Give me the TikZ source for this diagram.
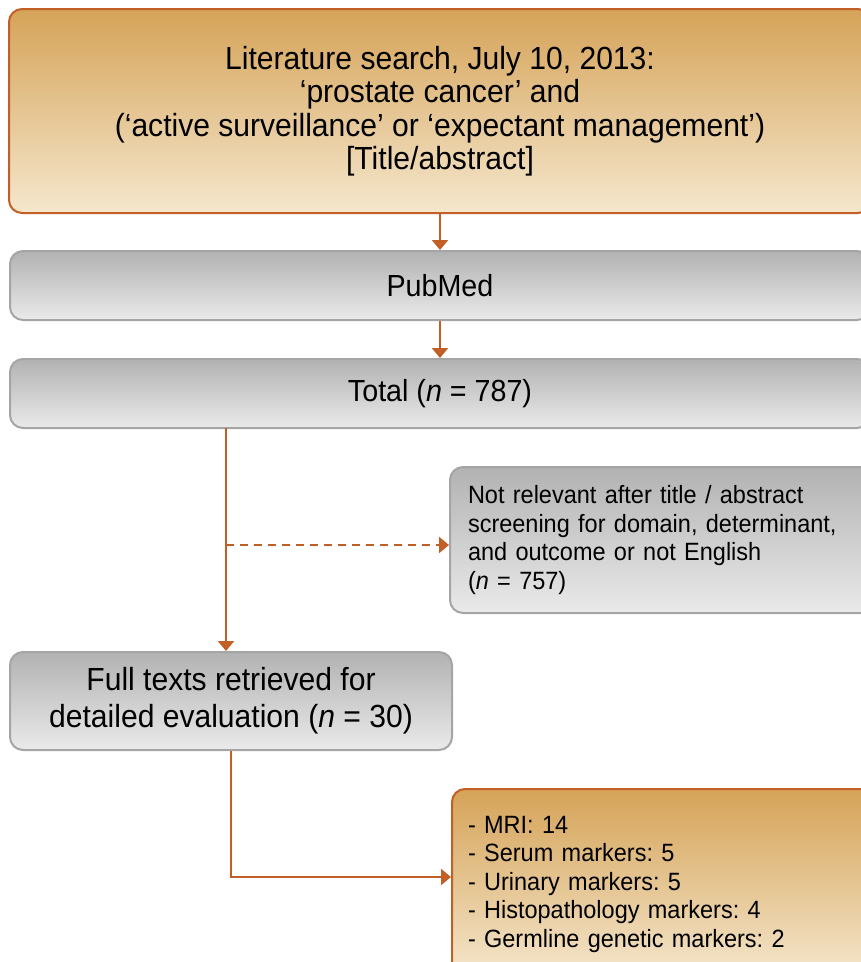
\documentclass[tikz,border=0pt]{standalone}
\usepackage{fontspec}
\setmainfont[FakeStretch=0.94]{Liberation Sans}
\usetikzlibrary{arrows.meta,calc}
\definecolor{rust}{RGB}{193,95,38}
\definecolor{ortop}{RGB}{213,163,88}
\definecolor{orbot}{RGB}{245,231,205}
\definecolor{grtop}{RGB}{178,178,178}
\definecolor{grbot}{RGB}{234,234,234}
\definecolor{grline}{RGB}{165,165,165}
\begin{document}
\frenchspacing
\begin{tikzpicture}[x=1pt,y=-1pt,
 obox/.style={draw=rust, line width=2pt, rounded corners=13pt, top color=ortop, bottom color=orbot, inner sep=0pt},
 gbox/.style={draw=grline, line width=2pt, rounded corners=13pt, top color=grtop, bottom color=grbot, inner sep=0pt},
 big/.style={font=\fontsize{32}{33.5}\selectfont, align=center},
 mid/.style={font=\fontsize{30.5}{35}\selectfont, align=center},
 small/.style={font=\fontsize{25}{28.5}\selectfont, align=left, text width=404pt},
 arr/.style={draw=rust, line width=2.3pt, -{Triangle[width=16pt,length=10pt]}},
]
\useasboundingbox (0,0) rectangle (861,962);
\clip (0,0) rectangle (861,962);

\node[obox, big, minimum width=862pt, minimum height=204pt] (lit) at (440,111)
  {Literature search, July 10, 2013:\\ ‘prostate cancer’ and\\ (‘active surveillance’ or ‘expectant management’)\\ {[Title/abstract]}};
\node[gbox, mid, minimum width=860pt, minimum height=69pt] (pub) at (440,285.5) {PubMed};
\node[gbox, mid, minimum width=860pt, minimum height=69pt] (tot) at (440,393.5) {Total (\textit{n} = 787)};
\node[gbox, big, font=\fontsize{32}{37}\selectfont, minimum width=442pt, minimum height=98pt] (full) at (231,701)
  {Full texts retrieved for\\ detailed evaluation (\textit{n} = 30)};
\node[gbox, small, inner xsep=18pt, minimum height=146pt] (nr) at (670,540)
  {Not relevant after title / abstract\\ screening for domain, determinant,\\ and outcome or not English\\ (\textit{n} = 757)};
\node[obox, small, inner xsep=16pt, minimum height=190pt] (res) at (670,884)
  {- MRI: 14\\ - Serum markers: 5\\ - Urinary markers: 5\\ - Histopathology markers: 4\\ - Germline genetic markers: 2};

\draw[arr] (lit.south) -- (pub.north);
\draw[arr] (pub.south) -- (tot.north);
\coordinate (v1) at (226,428);
\draw[arr] (v1) -- (v1 |- full.north);
\coordinate (d1) at (226,545);
\draw[arr, dash pattern=on 8pt off 6pt] (d1) -- (d1 -| nr.west);
\coordinate (e1) at (231,877);
\draw[arr] (full.south -| e1) -- (e1) -- (e1 -| res.west);
\end{tikzpicture}
\end{document}
